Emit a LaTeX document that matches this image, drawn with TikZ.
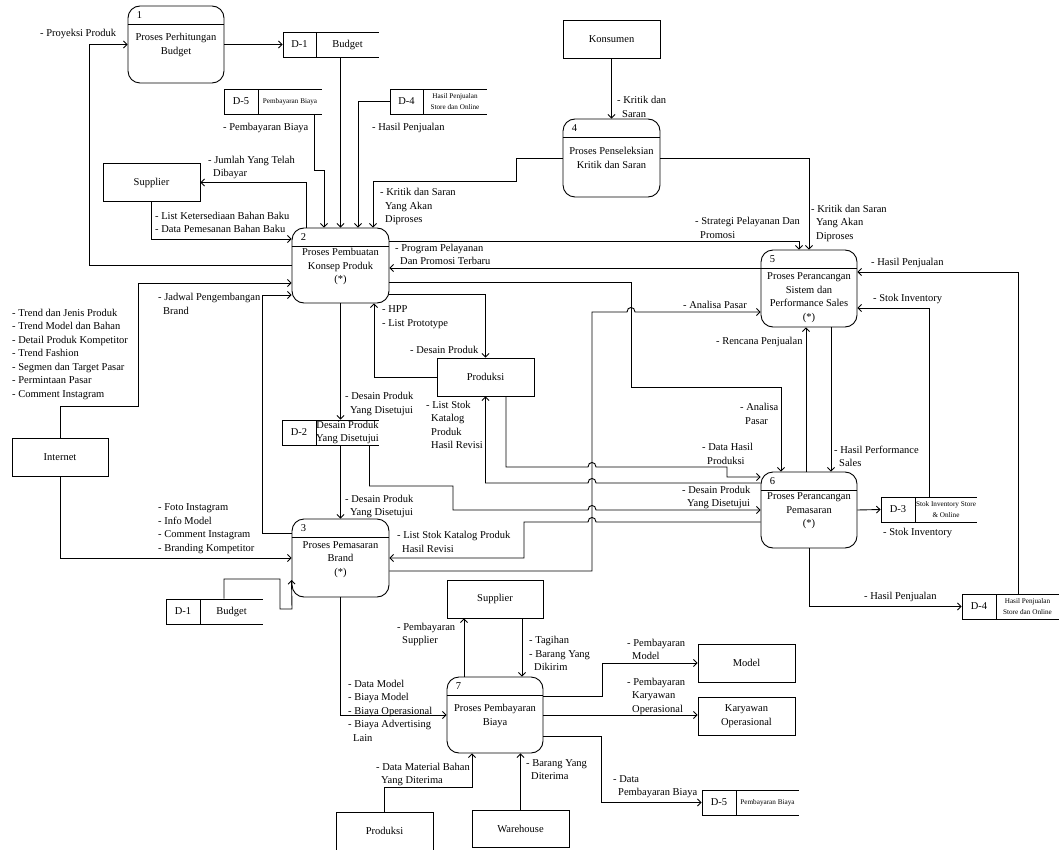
\documentclass[tikz,border=0pt]{standalone}
\usepackage{fontspec}
\setmainfont{Liberation Serif}
\usetikzlibrary{arrows.meta}
\newcommand\lblfont{\fontsize{10.5}{13.5}\selectfont}
\newcommand\smfont{\fontsize{7.2}{10.5}\selectfont}
\newcommand\lind{\hspace*{5pt}}
\newcommand\procbox[8]{%
  \node[proc, minimum width=#4pt, minimum height=#5pt] (#1) at (#2,#3) {};
  \draw[shape line] ([yshift=-19pt]#1.north west) -- ([yshift=-19pt]#1.north east);
  \node[ptxt, anchor=west] (#1n) at ([xshift=9pt,yshift=-9.5pt]#1.north west) {#6};
  \node[ptxt] (#1t) at (#2,#8) {#7};
}
\newcommand\dstore[8]{%
  \node[sid, minimum width={(#4-#2)*1pt}] (#1) at ({(#2+#4)/2},{#3+12.5}) {#6};
  \draw[shape line] (#2,#3) -- (#5,#3);
  \draw[shape line] (#2,{#3+25}) -- (#5,{#3+25});
  \node[ptxt, font=#8] (#1l) at ({(#4+#5)/2},{#3+12.5}) {#7};
}
\begin{document}
\begin{tikzpicture}[x=1pt,y=-1pt,
  shape line/.style={line width=0.9pt},
  proc/.style={draw, line width=0.9pt, rounded corners=12pt, inner sep=0pt},
  ext/.style={draw, line width=0.9pt, inner sep=0pt, minimum width=97pt, minimum height=38pt, font=\lblfont, align=center},
  sid/.style={draw, line width=0.9pt, inner sep=0pt, minimum height=25pt, font=\lblfont},
  flow/.style={line width=0.9pt, -{Straight Barb[length=3.5pt,width=7pt]}},
  lbl/.style={inner sep=0pt, anchor=west, align=left, font=\lblfont},
  ptxt/.style={inner sep=0pt, align=center, font=\lblfont},
]
\useasboundingbox (0,0) rectangle (1059,850);

% processes
\procbox{p1}{176}{44.5}{96}{77}{1}{Proses Perhitungan\\Budget}{45}
\procbox{p2}{340.5}{265.5}{97}{75}{2}{Proses Pembuatan\\Konsep Produk\\(*)}{266.5}
\procbox{p3}{340.5}{558}{97}{78}{3}{Proses Pemasaran\\Brand\\(*)}{559.5}
\procbox{p4}{611.5}{158}{97}{78}{4}{Proses Penseleksian\\Kritik dan Saran}{158}
\procbox{p5}{809}{288.5}{96}{77}{5}{Proses Perancangan\\Sistem dan\\Performance Sales\\(*)}{297.5}
\procbox{p6}{809}{510}{96}{76}{6}{Proses Perancangan\\Pemasaran\\(*)}{511}
\procbox{p7}{495}{715}{96}{76}{7}{Proses Pembayaran\\Biaya}{716}

% external entities
\node[ext] (sup1) at (151.5,182.5) {Supplier};
\node[ext] (kons) at (611.5,39) {Konsumen};
\node[ext, minimum width=96pt] (inet) at (60,457) {Internet};
\node[ext] (prod1) at (485.5,377) {Produksi};
\node[ext, minimum width=96pt] (sup2) at (495,599) {Supplier};
\node[ext] (model) at (746.5,663) {Model};
\node[ext] (kary) at (746.5,716) {Karyawan\\Operasional};
\node[ext] (prod2) at (384.5,831) {Produksi};
\node[ext, minimum height=37pt] (ware) at (520.5,828.5) {Warehouse};

% data stores
\dstore{d1a}{283}{32}{316}{379}{D-1}{Budget}{\lblfont}
\dstore{d5a}{224}{89}{258}{322}{D-5}{Pembayaran Biaya}{\smfont}
\dstore{d4a}{390}{89}{423}{487}{D-4}{Hasil Penjualan\\Store dan Online}{\smfont}
\dstore{d2a}{282}{420}{316}{379}{D-2}{Desain Produk\\Yang Disetujui}{\lblfont}
\dstore{d3a}{881}{497}{915}{977}{D-3}{Stok Inventory Store\\\& Online}{\smfont}
\dstore{d4b}{962}{594}{996}{1059}{D-4}{Hasil Penjualan\\Store dan Online}{\smfont}
\dstore{d1b}{166}{599}{200}{263}{D-1}{Budget}{\lblfont}
\dstore{d5b}{702}{790}{736}{799}{D-5}{Pembayaran Biaya}{\smfont}

% flows
\draw[flow] (p2.west) -- (89,265.5) |- (p1.west);
\draw[flow] (p1.east) -- (d1a.west);
\draw[flow] (d1a.south -| p2.north) -- (p2.north);
\draw[flow] ([xshift=73pt]d5a.south) -- (314,170) -- (324,170) -- ([xshift=-16.5pt]p2.north);
\draw[flow] (d4a.west) -| ([xshift=17.5pt]p2.north);
\draw[flow] ([xshift=-34.5pt]p2.north) |- (sup1.east);
\draw[flow] (sup1.south) |- ([yshift=26.5pt]p2.west);
\draw[flow] (inet.north) -- (60,406) -- (138,406) |- ([yshift=-17.5pt]p2.west);
\draw[flow] ([yshift=25pt]p3.west) -- (262,533) |- ([yshift=-29.5pt]p2.west);
\draw[flow] (inet.south) |- (p3.west);
\draw[flow] ([xshift=41pt]d1b.north) -- (224,579) -- (280,579) -- (280,609) -- (292,609) -- ([yshift=-22pt]p3.west);
\draw[flow] (p4.west) -- (516,158) -- (516,181) -- (373,181) -- ([xshift=32.5pt]p2.north);
\draw[flow] (p4.east) -| (p5.north);
\draw[flow] (kons.south) -- (p4.north);
\draw[flow] ([yshift=24.5pt]p2.east) -| ([xshift=-10pt]p5.north);
\draw[flow] ([yshift=20.5pt]p5.west) -- ([yshift=-2.5pt]p2.east);
\draw[flow] ([yshift=-16.5pt]p2.east) -- (631,282) -- (631,387) -- (781,387) -- ([xshift=-28pt]p6.north);
\draw[flow] ([yshift=-28.5pt]p2.east) -| (prod1.north);
\draw[flow] (prod1.west) -| ([xshift=33.5pt]p2.south);
\draw[flow] (p2.south) -- (p2.south |- d2a.north);
\draw[flow] (p2.south |- d2a.south) -- (p3.north);
\draw[flow] ([xshift=70.5pt]d2a.south) -- (369.5,486) -- (453,486) -- (453,510) -- (588,510) .. controls (588,504) and (596,504) .. (596,510) -- (p6.west);
\draw[flow] ([xshift=20.5pt]prod1.south) -- (506,467) -- (588,467) .. controls (588,461) and (596,461) .. (596,467) -- (727,467) -- (727,477) -- ([yshift=33pt]p6.west);
\draw[flow] ([yshift=27pt]p6.west) -- (596,483) .. controls (596,477) and (588,477) .. (588,483) -- (485.5,483) -- (prod1.south);
\draw[flow] ([yshift=-12pt]p6.west) -- (596,522) .. controls (596,516) and (588,516) .. (588,522) -- (524,522) -- (524,558) -- (p3.east);
\draw[flow] ([yshift=-13pt]p3.east) -- (592,571) -- (592,312) -- (627,312) .. controls (627,306) and (635,306) .. (635,312) -- ([yshift=-23.5pt]p5.west);
\draw[flow] ([xshift=-3pt]p6.north) -- ([xshift=-3pt]p5.south);
\draw[flow] ([xshift=22pt]p5.south) -- ([xshift=22pt]p6.north);
\draw[flow] (p6.east) -- (d3a.west);
\draw[flow] ([xshift=31pt]d3a.north) |- ([yshift=-19.5pt]p5.east);
\draw[flow] ([xshift=39pt]d4b.north) |- ([yshift=16.5pt]p5.east);
\draw[flow] (p6.south) |- (d4b.west);
\draw[flow] (p3.south) |- (p7.west);
\draw[flow] ([xshift=-31pt]p7.north) -- ([xshift=-31pt]sup2.south);
\draw[flow] ([xshift=27pt]sup2.south) -- ([xshift=27pt]p7.north);
\draw[flow] ([yshift=19pt]p7.east) -- (602,696) |- (model.west);
\draw[flow] (p7.east) -- (p7.east -| kary.west);
\draw[flow] ([yshift=-21pt]p7.east) -- (601,736) |- (d5b.west);
\draw[flow] (ware.north) -- (ware.north |- p7.south);
\draw[flow] (prod2.north) -- (384.5,787) -| ([xshift=-23pt]p7.south);

% labels
\node[lbl] (l1) at (40,34) {- Proyeksi Produk};
\node[lbl] (l2) at (223,128) {- Pembayaran Biaya};
\node[lbl] (l3) at (372,128) {- Hasil Penjualan};
\node[lbl] (l4) at (208,167.5) {- Jumlah Yang Telah\\\lind Dibayar};
\node[lbl] (l5) at (155,222.5) {- List Ketersediaan Bahan Baku\\- Data Pemesanan Bahan Baku};
\node[lbl] (l6) at (617,107) {- Kritik dan\\\lind Saran};
\node[lbl] (l7) at (380,206.5) {- Kritik dan Saran\\\lind Yang Akan\\\lind Diproses};
\node[lbl] (l8) at (811,223) {- Kritik dan Saran\\\lind Yang Akan\\\lind Diproses};
\node[lbl] (l9) at (695,228) {- Strategi Pelayanan Dan\\\lind Promosi};
\node[lbl] (l10) at (395,254.5) {- Program Pelayanan\\\lind Dan Promosi Terbaru};
\node[lbl] (l11) at (382,317) {- HPP\\- List Prototype};
\node[lbl] (l12) at (410,350) {- Desain Produk};
\node[lbl] (l13) at (158,304) {- Jadwal Pengembangan\\\lind Brand};
\node[lbl] (l14) at (12,354) {- Trend dan Jenis Produk\\- Trend Model dan Bahan\\- Detail Produk Kompetitor\\- Trend Fashion\\- Segmen dan Target Pasar\\- Permintaan Pasar\\- Comment Instagram};
\node[lbl] (l15) at (345,404) {- Desain Produk\\\lind Yang Disetujui};
\node[lbl] (l16) at (426,425) {- List Stok\\\lind Katalog\\\lind Produk\\\lind Hasil Revisi};
\node[lbl] (l17) at (683,305) {- Analisa Pasar};
\node[lbl] (l18) at (716,342) {- Rencana Penjualan};
\node[lbl] (l19) at (740,414) {- Analisa\\\lind Pasar};
\node[lbl] (l20) at (702,454) {- Data Hasil\\\lind Produksi};
\node[lbl] (l21) at (682,497.5) {- Desain Produk\\\lind Yang Disetujui};
\node[lbl] (l22) at (834,456.5) {- Hasil Performance\\\lind Sales};
\node[lbl] (l23) at (873,299) {- Stok Inventory};
\node[lbl] (l24) at (871,263) {- Hasil Penjualan};
\node[lbl] (l25) at (883,533) {- Stok Inventory};
\node[lbl] (l26) at (864,597) {- Hasil Penjualan};
\node[lbl] (l27) at (345,506.5) {- Desain Produk\\\lind Yang Disetujui};
\node[lbl] (l28) at (397,542) {- List Stok Katalog Produk\\\lind Hasil Revisi};
\node[lbl] (l29) at (158,528.5) {- Foto Instagram\\- Info Model\\- Comment Instagram\\- Branding Kompetitor};
\node[lbl] (l30) at (397,634.5) {- Pembayaran\\\lind Supplier};
\node[lbl] (l31) at (529,653.5) {- Tagihan\\- Barang Yang\\\lind Dikirim};
\node[lbl] (l32) at (348,710.5) {- Data Model\\- Biaya Model\\- Biaya Operasional\\- Biaya Advertising\\\lind Lain};
\node[lbl] (l33) at (627,649.5) {- Pembayaran\\\lind Model};
\node[lbl] (l34) at (627,696) {- Pembayaran\\\lind Karyawan\\\lind Operasional};
\node[lbl] (l35) at (613,786.5) {- Data\\\lind Pembayaran Biaya};
\node[lbl] (l36) at (526,769.5) {- Barang Yang\\\lind Diterima};
\node[lbl] (l37) at (376,774.5) {- Data Material Bahan\\\lind Yang Diterima};
\end{tikzpicture}
\end{document}
